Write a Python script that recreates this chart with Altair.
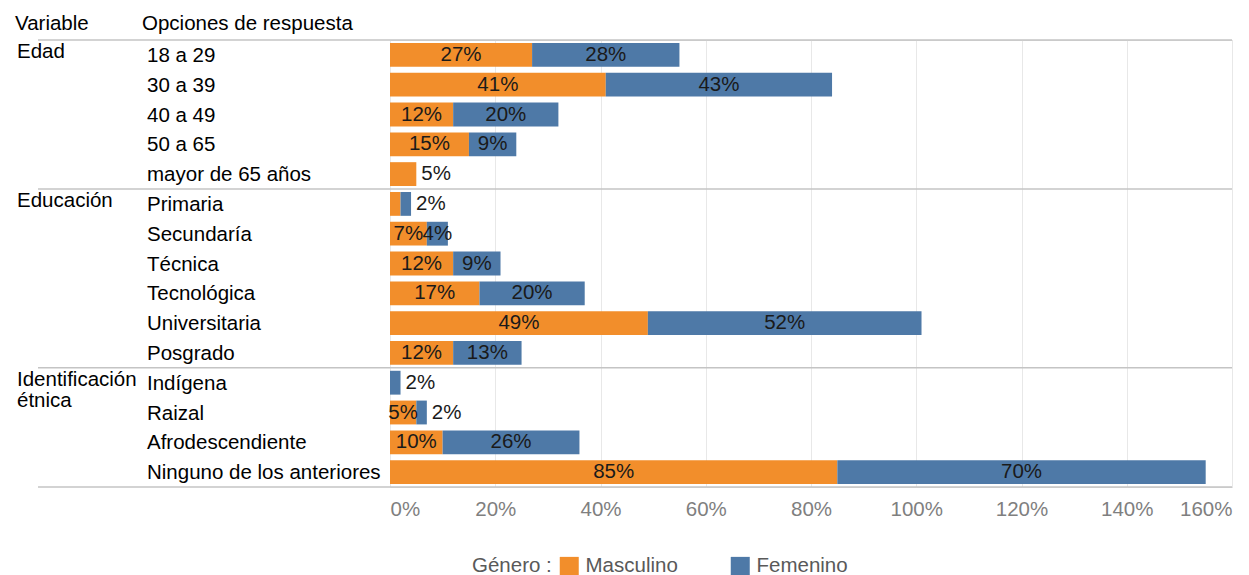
import altair as alt
import pandas as pd

# Survey profile by gender: share of respondents per answer option
options = [
    "18 a 29", "30 a 39", "40 a 49", "50 a 65", "mayor de 65 años",
    "Primaria", "Secundaría", "Técnica", "Tecnológica", "Universitaria", "Posgrado",
    "Indígena", "Raizal", "Afrodescendiente", "Ninguno de los anteriores",
]
variables = ["Edad", "Educación", "Identificación\nétnica"]
group_sizes = [5, 6, 4]

masculino = [27, 41, 12, 15, 5, 2, 7, 12, 17, 49, 12, 0, 5, 10, 85]
femenino = [28, 43, 20, 9, 0, 2, 4, 9, 20, 52, 13, 2, 2, 26, 70]

# where each segment's percentage label goes: inside the bar, after its end, or nowhere
masc_label = ["in", "in", "in", "in", "out", "none", "in", "in", "in", "in", "in", "none", "in", "in", "in"]
fem_label = ["in", "in", "in", "in", "none", "out", "in", "in", "in", "in", "in", "out", "out", "in", "in"]

series = ["Masculino", "Femenino"]
colors = ["#F28E2B", "#4E79A7"]
ticks = [0, 20, 40, 60, 80, 100, 120, 140, 160]

FONT = "Liberation Sans"
FS = 20.5
W, H = 842, 447

# stacked segments
rows = []
for i, opt in enumerate(options):
    m, f = masculino[i], femenino[i]
    rows.append(dict(option=opt, series="Masculino", start=0, end=m, value=m,
                     mid=m / 2, total=m + f, place=masc_label[i]))
    rows.append(dict(option=opt, series="Femenino", start=m, end=m + f, value=f,
                     mid=m + f / 2, total=m + f, place=fem_label[i]))
seg = pd.DataFrame(rows)
seg["text"] = seg["value"].astype(str) + "%"

# first option of each variable block, and block boundaries
first_rows, bounds, k = [], [0], 0
for n in group_sizes:
    first_rows.append(options[k])
    k += n
    bounds.append(k)
groups = pd.DataFrame({"variable": variables, "option": first_rows})
seps = pd.DataFrame({"pos": bounds})
opts = pd.DataFrame({"option": options})

y_scale = alt.Scale(domain=options, paddingInner=0.2, paddingOuter=0.1)
y_enc = alt.Y("option:N", scale=y_scale, axis=None)
x_scale = alt.Scale(domain=[0, 160], nice=False)

bars = alt.Chart(seg).mark_bar(cornerRadius=0).encode(
    x=alt.X("start:Q", scale=x_scale,
            axis=alt.Axis(values=ticks, labelExpr="datum.value + '%'", title=None,
                          grid=True, gridColor="#e8e8e8", ticks=False, domain=False,
                          labelFont=FONT, labelFontSize=FS, labelColor="#7f7f7f",
                          labelPadding=12)),
    x2="end:Q",
    y=y_enc,
    color=alt.Color("series:N",
                    scale=alt.Scale(domain=series, range=colors),
                    legend=alt.Legend(orient="none", legendX=82, legendY=516,
                                      direction="horizontal", title="Género :",
                                      titleOrient="left", titleFont=FONT,
                                      titleFontSize=FS, titleFontWeight="normal",
                                      titleColor="#595959", titlePadding=7,
                                      labelFont=FONT, labelFontSize=FS,
                                      labelColor="#595959", labelOffset=6,
                                      symbolType="square", symbolSize=361,
                                      symbolStrokeWidth=0, symbolOpacity=1,
                                      columnPadding=52)),
)

label_style = dict(font=FONT, fontSize=FS, color="#1a1a1a", baseline="middle")

inside = alt.Chart(seg).transform_filter("datum.place == 'in'").mark_text(
    align="center", **label_style
).encode(x=alt.X("mid:Q", scale=x_scale), y=y_enc, text="text:N")

outside = alt.Chart(seg).transform_filter("datum.place == 'out'").mark_text(
    align="left", dx=5, **label_style
).encode(x=alt.X("total:Q", scale=x_scale), y=y_enc, text="text:N")

option_text = alt.Chart(opts).mark_text(
    align="left", baseline="middle", font=FONT, fontSize=FS, color="#000000", dy=1
).encode(x=alt.value(-243), y=y_enc, text="option:N")

group_text = alt.Chart(groups).mark_text(
    align="left", baseline="alphabetic", font=FONT, fontSize=FS, color="#000000",
    dy=3, lineBreak="\n", lineHeight=21
).encode(x=alt.value(-373), y=y_enc, text="variable:N")

head_var = alt.Chart(pd.DataFrame({"t": ["Variable"]})).mark_text(
    align="left", baseline="alphabetic", font=FONT, fontSize=FS, color="#000000"
).encode(x=alt.value(-375), y=alt.value(-10), text="t:N")

head_opt = alt.Chart(pd.DataFrame({"t": ["Opciones de respuesta"]})).mark_text(
    align="left", baseline="alphabetic", font=FONT, fontSize=FS, color="#000000"
).encode(x=alt.value(-248), y=alt.value(-10), text="t:N")

main = alt.layer(bars, inside, outside, option_text, group_text, head_var, head_opt)

# horizontal separators between variable blocks, running under the text columns
rules = alt.Chart(seps).mark_rule(color="#c4c4c4", strokeWidth=1.5).encode(
    x=alt.value(-352), x2=alt.value(W),
    y=alt.Y("pos:Q", scale=alt.Scale(domain=[0, 15], reverse=True, nice=False, zero=False),
            axis=None),
)

chart = alt.layer(main, rules).resolve_scale(y="independent").properties(
    width=W, height=H,
    autosize=alt.AutoSizeParams(type="none"),
    padding={"left": 390, "top": 40, "right": 17, "bottom": 88},
    background="#ffffff",
).configure_view(stroke="#d9d9d9", strokeWidth=1)

chart.save("out.html", embed_options={"renderer": "svg", "actions": False})
